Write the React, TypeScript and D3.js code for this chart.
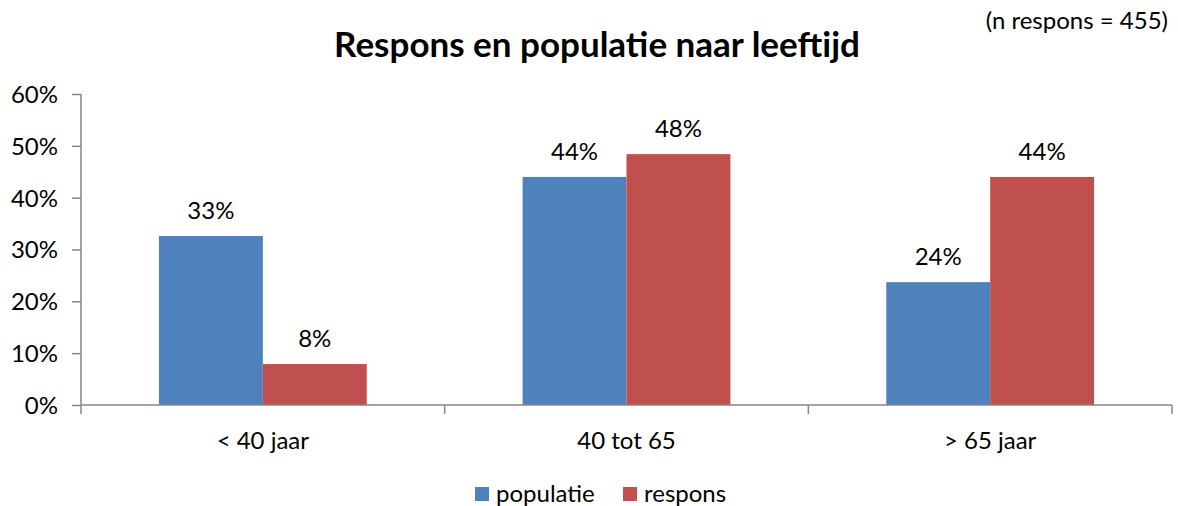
import React, { useEffect, useRef } from 'react';
import * as d3 from 'd3';

const categories = ['< 40 jaar', '40 tot 65', '> 65 jaar'];
const seriesNames = ['populatie', 'respons'];
const populatie = [0.326, 0.44, 0.237];
const respons = [0.079, 0.484, 0.44];
const labelsPopulatie = ['33%', '44%', '24%'];
const labelsRespons = ['8%', '48%', '44%'];
const yTicks = [0, 0.1, 0.2, 0.3, 0.4, 0.5, 0.6];
const colors = ['#4f81bd', '#c0504d'];

const W = 1178;
const H = 506;
const FONT = 'Lato, "Open Sans", sans-serif';
const FS = '24px';

const App: React.FC = () => {
  const ref = useRef<SVGSVGElement | null>(null);

  useEffect(() => {
    if (!ref.current) return;
    const svg = d3.select(ref.current);
    svg.selectAll('*').remove();

    const left = 81, right = 1172, top = 94, bottom = 405;
    const x = d3.scaleBand<string>().domain(categories).range([left, right]).padding(0);
    const gap = x.bandwidth() * 0.2143;
    const xs = d3.scaleBand<string>().domain(seriesNames).range([gap, x.bandwidth() - gap]).padding(0);
    const y = d3.scaleLinear().domain([0, 0.6]).range([bottom, top]);

    // title
    svg.append('text')
      .attr('x', 597).attr('y', 57)
      .attr('text-anchor', 'middle')
      .style('font-family', FONT).style('font-size', '35px').style('font-weight', 'bold')
      .text('Respons en populatie naar leeftijd');
    svg.append('text')
      .attr('x', 1168).attr('y', 29)
      .attr('text-anchor', 'end')
      .style('font-family', FONT).style('font-size', FS)
      .text('(n respons = 455)');

    // bars
    const data = [populatie, respons];
    const labels = [labelsPopulatie, labelsRespons];
    seriesNames.forEach((s, si) => {
      const g = svg.append('g');
      g.selectAll('rect')
        .data(categories)
        .enter().append('rect')
        .attr('x', c => (x(c) as number) + (xs(s) as number))
        .attr('y', (_c, i) => y(data[si][i]))
        .attr('width', xs.bandwidth())
        .attr('height', (_c, i) => bottom - y(data[si][i]))
        .attr('fill', colors[si]);
      g.selectAll('text')
        .data(categories)
        .enter().append('text')
        .attr('x', c => (x(c) as number) + (xs(s) as number) + xs.bandwidth() / 2)
        .attr('y', (_c, i) => y(data[si][i]) - 17)
        .attr('text-anchor', 'middle')
        .style('font-family', FONT).style('font-size', FS)
        .text((_c, i) => labels[si][i]);
    });

    // y axis
    const yAxis = svg.append('g')
      .attr('transform', `translate(${left},0)`)
      .call(d3.axisLeft(y).tickValues(yTicks).tickFormat(d => `${Math.round(+d * 100)}%`).tickSize(9).tickPadding(14));
    yAxis.select('.domain').attr('stroke', '#868686').attr('stroke-width', 1.5).attr('d', `M0,${top}V${bottom}`);
    yAxis.selectAll('line').attr('stroke', '#868686').attr('stroke-width', 1.5);
    yAxis.selectAll('text').style('font-family', FONT).style('font-size', FS).attr('fill', '#000').attr('dy', '0.35em');

    // x axis
    const xAxisG = svg.append('g');
    xAxisG.append('line')
      .attr('x1', left).attr('x2', right).attr('y1', bottom).attr('y2', bottom)
      .attr('stroke', '#868686').attr('stroke-width', 1.5);
    const bounds = [...categories.map(c => x(c) as number), right];
    xAxisG.selectAll('line.tick')
      .data(bounds)
      .enter().append('line')
      .attr('class', 'tick')
      .attr('x1', d => d).attr('x2', d => d)
      .attr('y1', bottom).attr('y2', bottom + 9)
      .attr('stroke', '#868686').attr('stroke-width', 1.5);
    xAxisG.selectAll('text')
      .data(categories)
      .enter().append('text')
      .attr('x', c => (x(c) as number) + x.bandwidth() / 2)
      .attr('y', 449)
      .attr('text-anchor', 'middle')
      .style('font-family', FONT).style('font-size', FS)
      .text(c => c);

    // legend
    const legendItems = [
      { name: seriesNames[0], x: 475 },
      { name: seriesNames[1], x: 623 },
    ];
    const lg = svg.append('g');
    legendItems.forEach((it, i) => {
      lg.append('rect')
        .attr('x', it.x).attr('y', 487).attr('width', 14).attr('height', 14)
        .attr('fill', colors[i]);
      lg.append('text')
        .attr('x', it.x + 21).attr('y', 502)
        .style('font-family', FONT).style('font-size', FS)
        .text(it.name);
    });
  }, []);

  return (
    <svg ref={ref} width={W} height={H}
      style={{ position: 'absolute', left: 0, top: 0, background: '#fff' }} />
  );
};

export default App;
